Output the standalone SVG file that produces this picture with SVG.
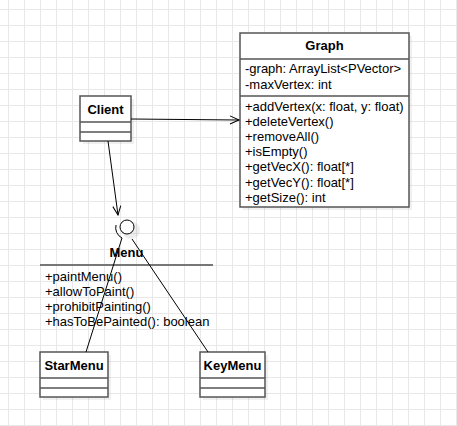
<svg xmlns="http://www.w3.org/2000/svg" width="457" height="426" viewBox="0 0 457 426">
  <defs>
    <pattern id="grid" x="8" y="9" width="16" height="16" patternUnits="userSpaceOnUse">
      <path d="M0.5 0 V16 M0 0.5 H16" fill="none" stroke="#e8e8e8" stroke-width="1"/>
    </pattern>
    <marker id="open" markerWidth="12" markerHeight="12" refX="10" refY="5" orient="auto" markerUnits="userSpaceOnUse">
      <path d="M1 1 L10 5 L1 9" fill="none" stroke="#000" stroke-width="1"/>
    </marker>
    <style>
      .box { fill: #fff; stroke: #555; stroke-width: 1.5; }
      .shadow { fill: #000; opacity: 0.06; }
      .sep { stroke: #555; stroke-width: 1.5; fill: none; }
      .title { font-family: "Liberation Sans", Arial, sans-serif; font-size: 13px; font-weight: bold; text-anchor: middle; fill: #000; }
      .member { font-family: "Liberation Sans", Arial, sans-serif; font-size: 13px; fill: #000; }
      .edge { stroke: #000; stroke-width: 1; fill: none; }
    </style>
  </defs>

  <rect width="457" height="426" fill="#fff"/>
  <rect width="457" height="426" fill="url(#grid)"/>

  <!-- Graph class -->
  <g id="graph">
    <rect class="shadow" x="243" y="36" width="169" height="174"/>
    <rect class="box" x="240" y="33" width="169" height="174"/>
    <line class="sep" x1="240" y1="59" x2="409" y2="59"/>
    <line class="sep" x1="240" y1="96" x2="409" y2="96"/>
    <text class="title" x="324.5" y="50">Graph</text>
    <text class="member" x="245" y="73">-graph: ArrayList&lt;PVector&gt;</text>
    <text class="member" x="245" y="88.5">-maxVertex: int</text>
    <text class="member" x="245" y="110.5">+addVertex(x: float, y: float)</text>
    <text class="member" x="245" y="125.7">+deleteVertex()</text>
    <text class="member" x="245" y="140.9">+removeAll()</text>
    <text class="member" x="245" y="156.1">+isEmpty()</text>
    <text class="member" x="245" y="171.3">+getVecX(): float[*]</text>
    <text class="member" x="245" y="186.5">+getVecY(): float[*]</text>
    <text class="member" x="245" y="201.7">+getSize(): int</text>
  </g>

  <!-- Client class -->
  <g id="client">
    <rect class="shadow" x="83" y="99" width="51" height="45"/>
    <rect class="box" x="80" y="96" width="51" height="45"/>
    <line class="sep" x1="80" y1="122" x2="131" y2="122"/>
    <line class="sep" x1="80" y1="132" x2="131" y2="132"/>
    <text class="title" x="105.5" y="113.5">Client</text>
  </g>

  <!-- Menu interface -->
  <g id="menu">
    <circle cx="131" cy="230" r="9" fill="#000" opacity="0.07"/>
    <circle cx="127" cy="227" r="7" fill="#fff" stroke="#000" stroke-width="1"/>
    <path class="edge" d="M116 225 A11.5 11.5 0 0 0 122 238"/>
    <text class="title" x="126.5" y="257">Menu</text>
    <line x1="40" y1="265" x2="213" y2="265" stroke="#777" stroke-width="2"/>
    <text class="member" x="45" y="280.5">+paintMenu()</text>
    <text class="member" x="45" y="295.5">+allowToPaint()</text>
    <text class="member" x="45" y="310.5">+prohibitPainting()</text>
    <text class="member" x="45" y="325.5">+hasToBePainted(): boolean</text>
  </g>

  <!-- StarMenu class -->
  <g id="starmenu">
    <rect class="shadow" x="43" y="355" width="68" height="45"/>
    <rect class="box" x="40" y="352" width="68" height="45"/>
    <line class="sep" x1="40" y1="378" x2="108" y2="378"/>
    <line class="sep" x1="40" y1="388" x2="108" y2="388"/>
    <text class="title" x="74" y="369.5">StarMenu</text>
  </g>

  <!-- KeyMenu class -->
  <g id="keymenu">
    <rect class="shadow" x="203" y="355" width="65" height="45"/>
    <rect class="box" x="200" y="352" width="65" height="45"/>
    <line class="sep" x1="200" y1="378" x2="265" y2="378"/>
    <line class="sep" x1="200" y1="388" x2="265" y2="388"/>
    <text class="title" x="232.5" y="369.5">KeyMenu</text>
  </g>

  <!-- Connectors -->
  <g id="connectors">
    <line class="edge" x1="131" y1="119" x2="239" y2="120" marker-end="url(#open)"/>
    <line class="edge" x1="108" y1="141" x2="118" y2="215" marker-end="url(#open)"/>
    <line class="edge" x1="122" y1="238" x2="86" y2="352"/>
    <line class="edge" x1="132" y1="239" x2="208" y2="352"/>
  </g>
</svg>
